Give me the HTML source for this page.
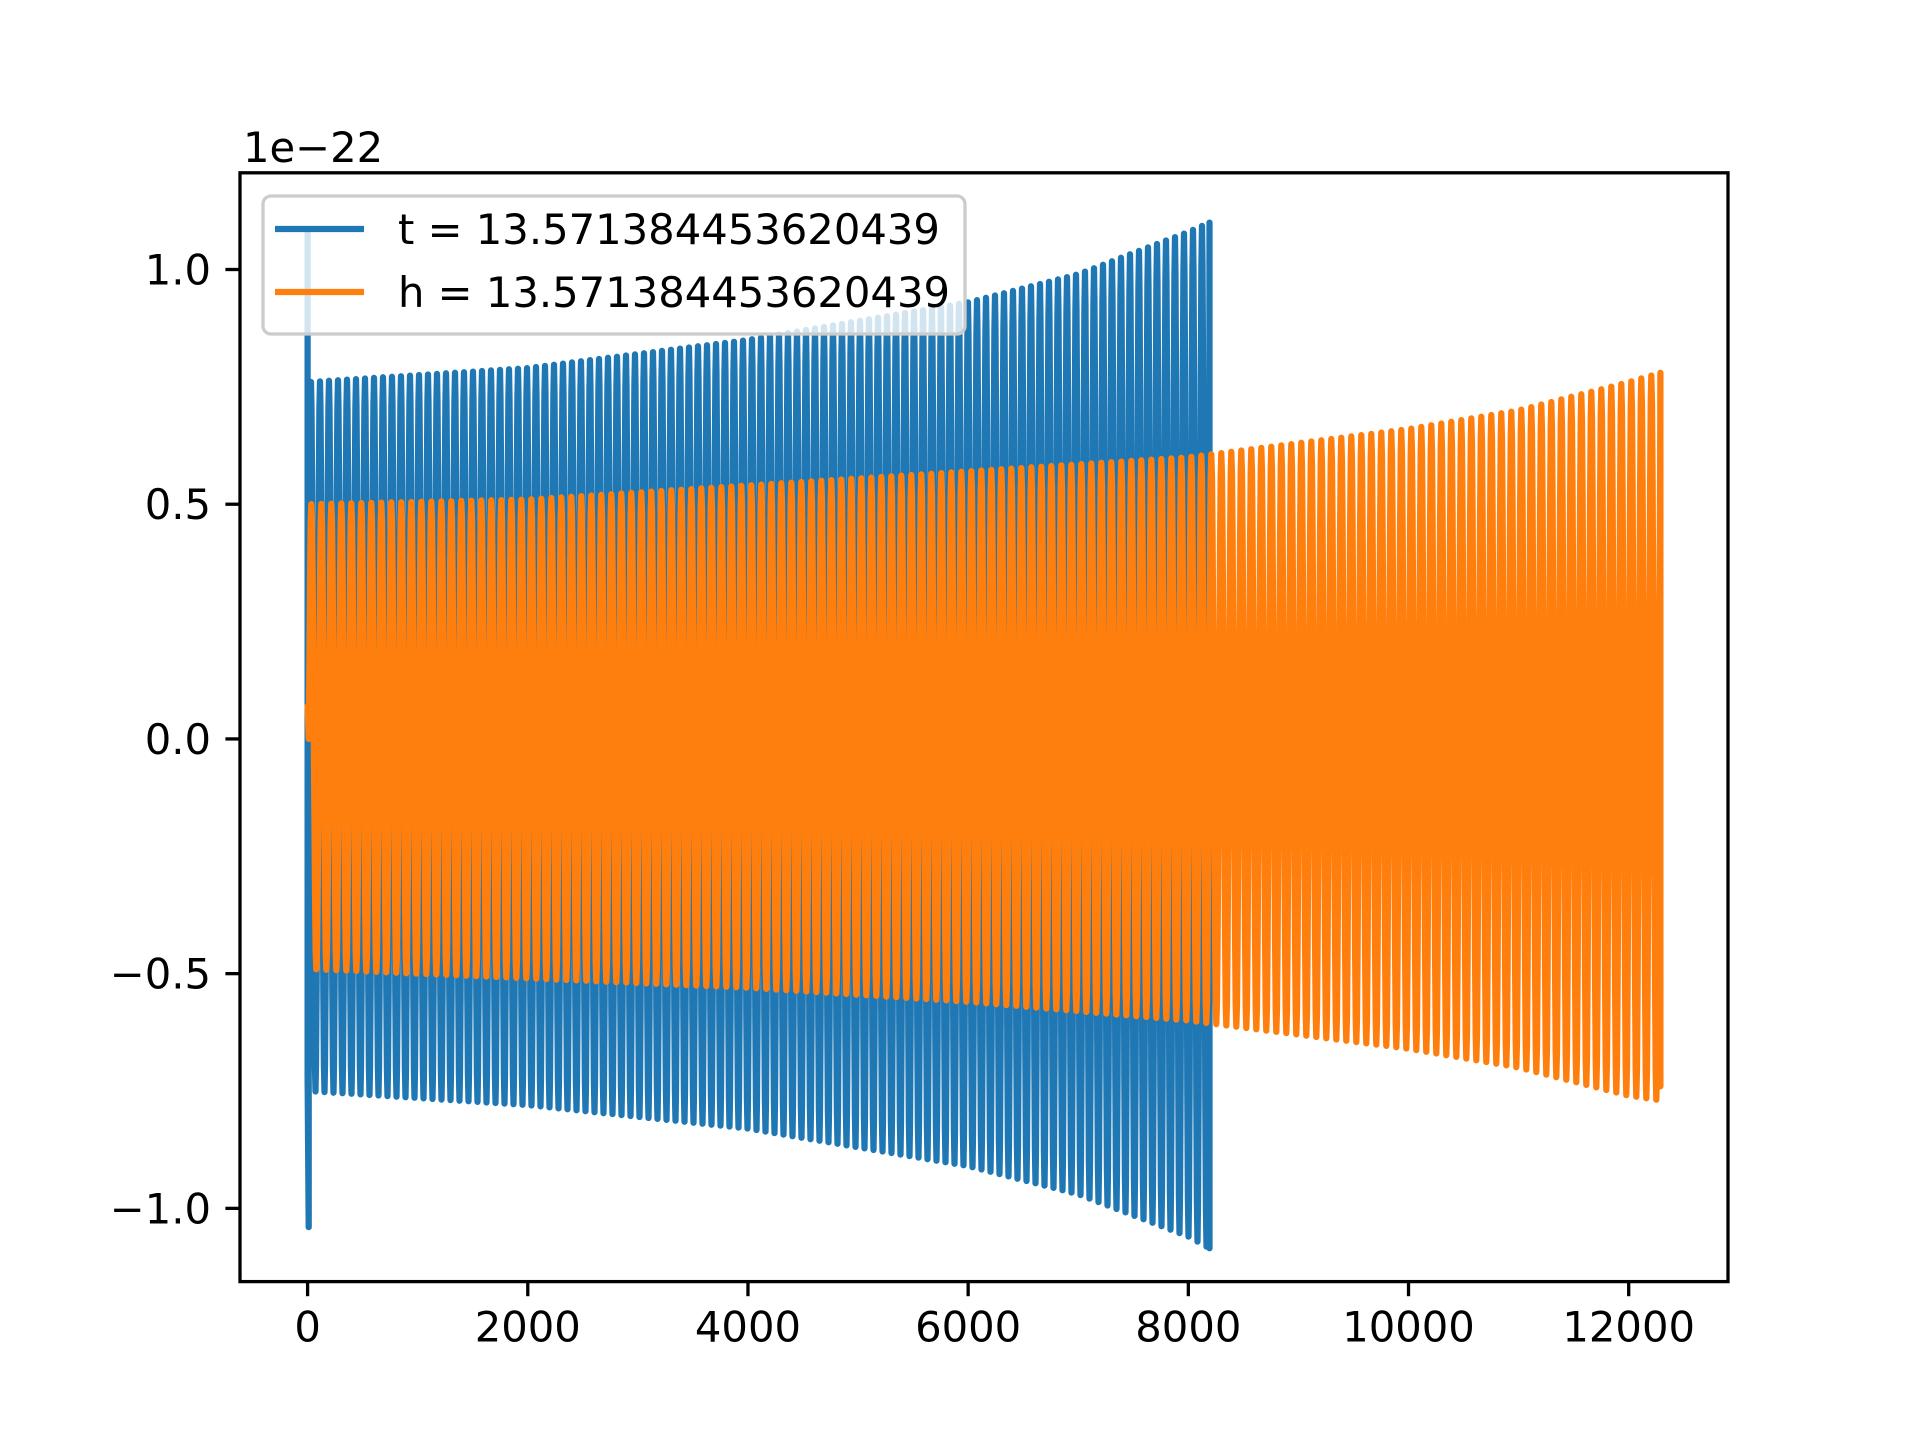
<!DOCTYPE html>
<html><head><meta charset="utf-8"><style>
html,body{margin:0;padding:0;background:#fff;}
svg{display:block;font-family:"DejaVu Sans","Liberation Sans",sans-serif;}
</style></head><body>
<svg id="chart" width="1920" height="1440" viewBox="0 0 1920 1440">
<rect width="1920" height="1440" fill="#fff"/>
<defs><clipPath id="ax"><rect x="240" y="172.8" width="1488" height="1108.8"/></clipPath></defs>
<g id="plot" clip-path="url(#ax)"></g>
<g id="axes"></g>
<g id="legend"></g>
</svg>
<script>
// data
const xTicks = [0, 2000, 4000, 6000, 8000, 10000, 12000];
const yTicks = [-1.0, -0.5, 0.0, 0.5, 1.0];
const yTickLabels = ["\u22121.0", "\u22120.5", "0.0", "0.5", "1.0"];
const blueEnvX = [0, 2000, 4000, 6000, 7000, 8000, 8192];
const blueUpper = [0.76, 0.79, 0.85, 0.93, 0.99, 1.08, 1.10];
const blueLower = [-0.75, -0.78, -0.83, -0.91, -0.97, -1.06, -1.085];
const blueSpike = [1.08, -0.72, -1.04];
const orangeEnvX = [0, 2000, 4000, 6000, 8000, 10000, 11000, 12000, 12288];
const orangeUpper = [0.50, 0.51, 0.54, 0.57, 0.60, 0.66, 0.70, 0.76, 0.78];
const orangeLower = [-0.49, -0.51, -0.53, -0.56, -0.60, -0.66, -0.70, -0.76, -0.77];
const orangeStart = 0.07;
const orangeEnd = -0.74;
const legendLabels = ["t = 13.571384453620439", "h = 13.571384453620439"];

const NS = "http://www.w3.org/2000/svg";
const X0 = 240, X1 = 1728, Y0 = 172.8, Y1 = 1281.6;
const xmin = -614, xmax = 12902, ymin = -1.156, ymax = 1.206;
const sx = v => X0 + (v - xmin) / (xmax - xmin) * (X1 - X0);
const sy = v => Y1 - (v - ymin) / (ymax - ymin) * (Y1 - Y0);
function interp(xs, ys, x) {
  if (x <= xs[0]) return ys[0];
  for (let i = 1; i < xs.length; i++) if (x <= xs[i]) {
    const t = (x - xs[i-1]) / (xs[i] - xs[i-1]); return ys[i-1] + t * (ys[i] - ys[i-1]);
  }
  return ys[ys.length-1];
}
function mk(tag, attrs, parent) {
  const e = document.createElementNS(NS, tag);
  for (const k in attrs) e.setAttribute(k, attrs[k]);
  parent.appendChild(e); return e;
}
const plot = document.getElementById('plot');
function wave(envX, up, lo, periodPx, startPts, endPts, color, name) {
  const pts = startPts.slice();
  const xEnd = envX[envX.length-1];
  const periodData = periodPx / (sx(1) - sx(0));
  const N = 16;
  const dx = periodData / N;
  let k = 0;
  for (let x = envX[0] + dx * 2; x < xEnd; x += dx, k++) {
    const s = Math.sin(2 * Math.PI * k / N);
    const v = s >= 0 ? s * interp(envX, up, x) : -s * interp(envX, lo, x);
    pts.push([sx(x), sy(v)]);
  }
  endPts.forEach(p => pts.push(p));
  const pl = mk('polyline', {points: pts.map(p => p[0].toFixed(1)+','+p[1].toFixed(1)).join(' '),
    fill: 'none', stroke: color, 'stroke-width': 6.25, 'stroke-linejoin': 'round', 'stroke-linecap': 'round'}, plot);
  
  
}
const bLast = blueEnvX[blueEnvX.length-1];
wave(blueEnvX, blueUpper, blueLower, 9,
  [[sx(0), sy(blueSpike[0])], [sx(0), sy(blueSpike[1])], [sx(10), sy(blueSpike[2])]],
  [[sx(bLast), sy(blueUpper[blueUpper.length-1])], [sx(bLast), sy(blueLower[blueLower.length-1])]],
  '#1f77b4', 't-series-line');
const oLast = orangeEnvX[orangeEnvX.length-1];
wave(orangeEnvX, orangeUpper, orangeLower, 10,
  [[sx(0), sy(orangeStart)]],
  [[sx(oLast), sy(orangeUpper[orangeUpper.length-1])], [sx(oLast), sy(orangeEnd)]],
  '#ff7f0e', 'h-series-line');

const axes = document.getElementById('axes');
const frame = mk('rect', {x: X0, y: Y0, width: X1-X0, height: Y1-Y0, fill: 'none', stroke: '#000', 'stroke-width': 3.3}, axes);


xTicks.forEach(v => {
  const x = sx(v);
  const t = mk('line', {x1: x, x2: x, y1: Y1, y2: Y1 + 14.6, stroke: '#000', 'stroke-width': 3.3}, axes);
  
  
  const l = mk('text', {x: x, y: Y1 + 60, 'font-size': 41.7, 'text-anchor': 'middle', fill: '#000'}, axes);
  l.textContent = String(v);
  
  
});
yTicks.forEach((v, i) => {
  const y = sy(v);
  const t = mk('line', {x1: X0 - 14.6, x2: X0, y1: y, y2: y, stroke: '#000', 'stroke-width': 3.3}, axes);
  
  
  const l = mk('text', {x: X0 - 29, y: y + 15, 'font-size': 41.7, 'text-anchor': 'end', fill: '#000'}, axes);
  l.textContent = yTickLabels[i];
  
  
});
const off = mk('text', {x: 243, y: 162, 'font-size': 41.7, fill: '#000'}, axes);
off.textContent = "1e\u221222";



const lg = document.getElementById('legend');
const box = mk('rect', {x: 263, y: 196, width: 712, height: 138, rx: 8, fill: '#fff', 'fill-opacity': 0.8, stroke: '#cccccc', 'stroke-width': 3.3}, lg);


const colors = ['#1f77b4', '#ff7f0e'];
legendLabels.forEach((s, i) => {
  const y = 229 + i * 63;
  const ln = mk('line', {x1: 275, x2: 364, y1: y, y2: y, stroke: colors[i], 'stroke-width': 6.25}, lg);
  
  
  const tx = mk('text', {x: 398, y: y + 15, 'font-size': 41.7, fill: '#000'}, lg);
  tx.textContent = s;
  
  
});
// fit legend box to text width
const tw = Math.max(...Array.from(lg.querySelectorAll('text')).map(t => t.getBBox().width));
box.setAttribute('width', Math.min(712, 398 + tw + 15 - 263));
</script>
</body></html>
